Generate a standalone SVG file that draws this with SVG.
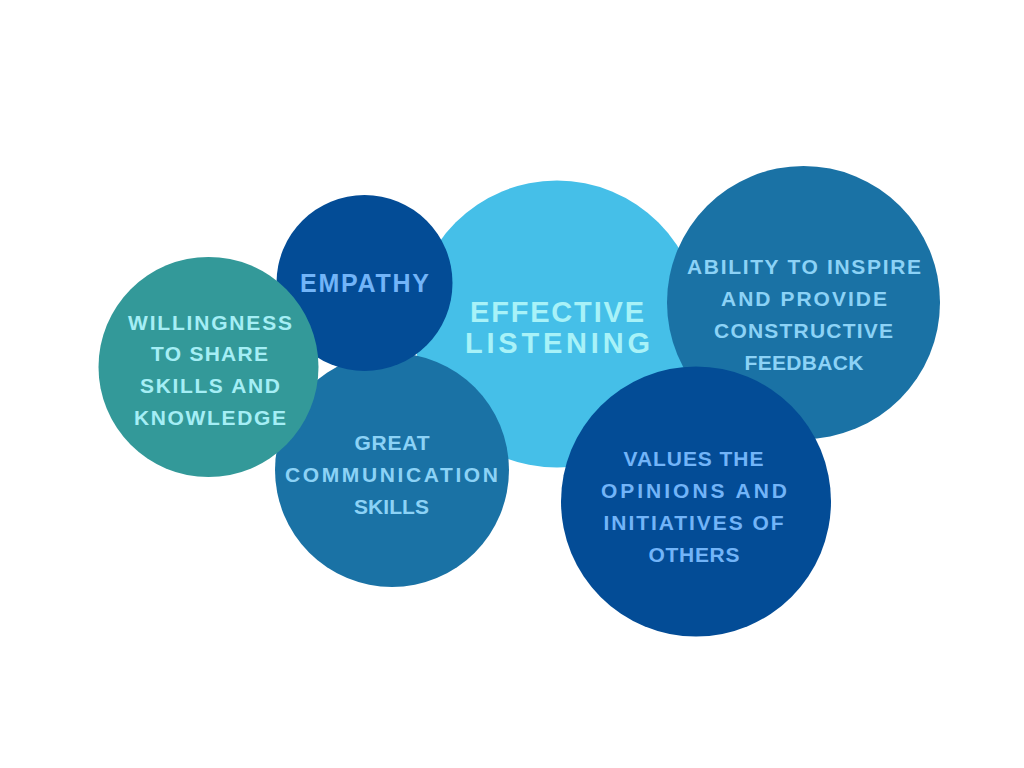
<svg xmlns="http://www.w3.org/2000/svg" width="1024" height="768" viewBox="0 0 1024 768">
<style>
text{font-family:"Liberation Sans",Arial,sans-serif;font-weight:bold;}
.s22{font-size:21px;}
.c-center{fill:#45BFE8;}
.c-dark{fill:#034C96;}
.c-mid{fill:#1A72A5;}
.c-teal{fill:#339999;}
.t-center{fill:#A8F2F8;}
.t-teal{fill:#A5EEF5;}
.t-dark{fill:#72B4F8;}
.t-mid{fill:#8CD2F6;}
</style>
<rect width="1024" height="768" fill="#FFFFFF"/>
<g id="connectors"/>
<g id="effective-listening">
<circle class="c-center" cx="557" cy="324" r="143.5"/>
<text class="t-center" x="470" y="322" font-size="29" textLength="174" lengthAdjust="spacing">EFFECTIVE</text>
<text class="t-center" x="465" y="353" font-size="29" textLength="185" lengthAdjust="spacing">LISTENING</text>
</g>
<g id="ability">
<circle class="c-mid" cx="803.5" cy="302.5" r="136.5"/>
<text class="t-mid s22" x="687" y="273.5" textLength="234" lengthAdjust="spacing">ABILITY TO INSPIRE</text>
<text class="t-mid s22" x="721" y="305.5" textLength="166" lengthAdjust="spacing">AND PROVIDE</text>
<text class="t-mid s22" x="714" y="337.5" textLength="179" lengthAdjust="spacing">CONSTRUCTIVE</text>
<text class="t-mid s22" x="744.5" y="370" textLength="119" lengthAdjust="spacing">FEEDBACK</text>
</g>
<g id="values">
<circle class="c-dark" cx="696" cy="501.5" r="135"/>
<text class="t-dark s22" x="623.5" y="466" textLength="140" lengthAdjust="spacing">VALUES THE</text>
<text class="t-dark s22" x="601" y="498" textLength="186" lengthAdjust="spacing">OPINIONS AND</text>
<text class="t-dark s22" x="603.5" y="530" textLength="180" lengthAdjust="spacing">INITIATIVES OF</text>
<text class="t-dark s22" x="648.5" y="562" textLength="91" lengthAdjust="spacing">OTHERS</text>
</g>
<g id="great-communication">
<circle class="c-mid" cx="392" cy="470" r="117"/>
<text class="t-mid s22" x="354.5" y="450" textLength="75" lengthAdjust="spacing">GREAT</text>
<text class="t-mid s22" x="285" y="482" textLength="213" lengthAdjust="spacing">COMMUNICATION</text>
<text class="t-mid s22" x="354" y="513.5" textLength="75" lengthAdjust="spacing">SKILLS</text>
</g>
<g id="empathy">
<circle class="c-dark" cx="364.5" cy="283" r="88"/>
<text class="t-dark" x="300" y="292" font-size="25" textLength="129" lengthAdjust="spacing">EMPATHY</text>
</g>
<g id="willingness">
<circle class="c-teal" cx="208.5" cy="367" r="110"/>
<text class="t-teal s22" x="128" y="329.5" textLength="164" lengthAdjust="spacing">WILLINGNESS</text>
<text class="t-teal s22" x="151" y="361" textLength="117" lengthAdjust="spacing">TO SHARE</text>
<text class="t-teal s22" x="140" y="393" textLength="140" lengthAdjust="spacing">SKILLS AND</text>
<text class="t-teal s22" x="134" y="425" textLength="152" lengthAdjust="spacing">KNOWLEDGE</text>
</g>
</svg>
